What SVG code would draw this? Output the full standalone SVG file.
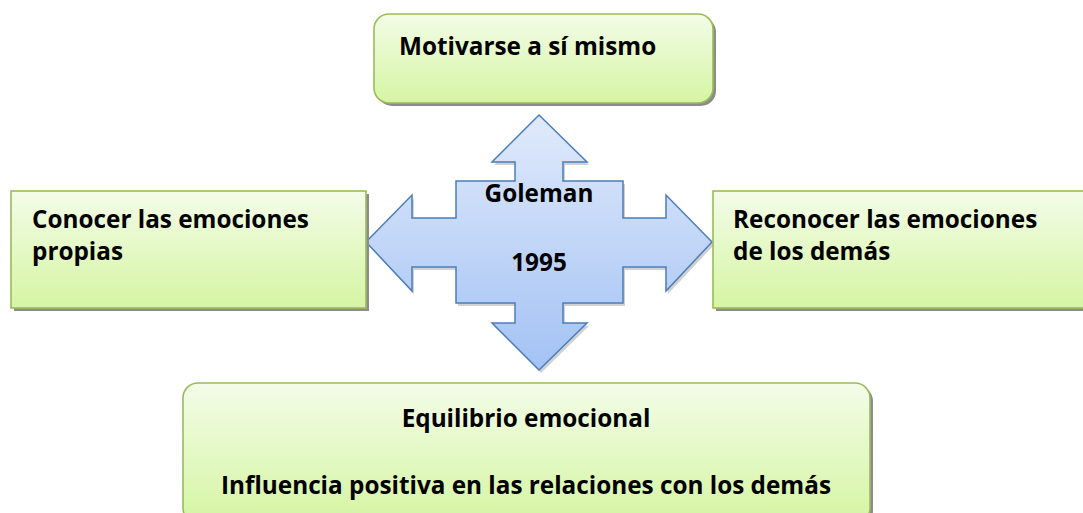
<svg xmlns="http://www.w3.org/2000/svg" width="1083" height="513" viewBox="0 0 1083 513">
<defs>
<linearGradient id="gGreen" x1="0" y1="0" x2="0" y2="1">
<stop offset="0" stop-color="#f3fce8"/>
<stop offset="1" stop-color="#d5f5a3"/>
</linearGradient>
<linearGradient id="gBlue" x1="0" y1="0" x2="0" y2="1">
<stop offset="0" stop-color="#e0eafb"/>
<stop offset="1" stop-color="#a3c2f4"/>
</linearGradient>
<style>
.box{fill:url(#gGreen);stroke:#9bbb59;stroke-width:1.6}
.shadow{fill:#8c8c8c}
.cross{fill:url(#gBlue);stroke:#4a7ebb;stroke-width:1.5;stroke-linejoin:miter}
.t{font-family:"Open Sans","Liberation Sans",sans-serif;font-weight:bold;font-size:24.3px;fill:#000}
.c{text-anchor:middle}
</style>
</defs>
<rect width="1083" height="513" fill="#ffffff"/>

<g id="connectors">
<polygon points="541,118 589,165 565,165 565,184 625,184 625,221 668,221 668,198 714,245 668,294 668,270 625,270 625,306 565,306 565,326 589,326 541,373 494,326 517,326 517,306 458,306 458,270 414,270 414,294 368,245 414,198 414,221 458,221 458,184 517,184 517,165 494,165" fill="#000" opacity="0.18"/>
<polygon id="cross" class="cross" points="539,115 587,162 563,162 563,181 623,181 623,218 666,218 666,195 712,242 666,291 666,267 623,267 623,303 563,303 563,323 587,323 539,370 492,323 515,323 515,303 456,303 456,267 412,267 412,291 366,242 412,195 412,218 456,218 456,181 515,181 515,162 492,162"/>
</g>

<g id="center">
<text class="t c" x="539" y="202">Goleman</text>
<text class="t c" x="539" y="271">1995</text>
</g>

<g id="top">
<rect class="shadow" x="377" y="17" width="339" height="89" rx="15"/>
<rect class="box" x="374" y="14" width="339" height="89" rx="15"/>
<text class="t" x="399" y="55">Motivarse a sí mismo</text>
</g>

<g id="left">
<rect class="shadow" x="14" y="194" width="355" height="117"/>
<rect class="box" x="11" y="191" width="355" height="117"/>
<text class="t" x="32" y="228">Conocer las emociones</text>
<text class="t" x="32" y="260">propias</text>
</g>

<g id="right">
<rect class="shadow" x="716" y="194" width="380" height="117"/>
<rect class="box" x="713" y="191" width="380" height="117"/>
<text class="t" x="733" y="228">Reconocer las emociones</text>
<text class="t" x="733" y="260">de los demás</text>
</g>

<g id="bottom">
<rect class="shadow" x="186" y="386" width="687" height="140" rx="15"/>
<rect class="box" x="183" y="383" width="687" height="140" rx="15"/>
<text class="t c" x="526" y="427">Equilibrio emocional</text>
<text class="t c" x="526" y="494">Influencia positiva en las relaciones con los demás</text>
</g>
</svg>
